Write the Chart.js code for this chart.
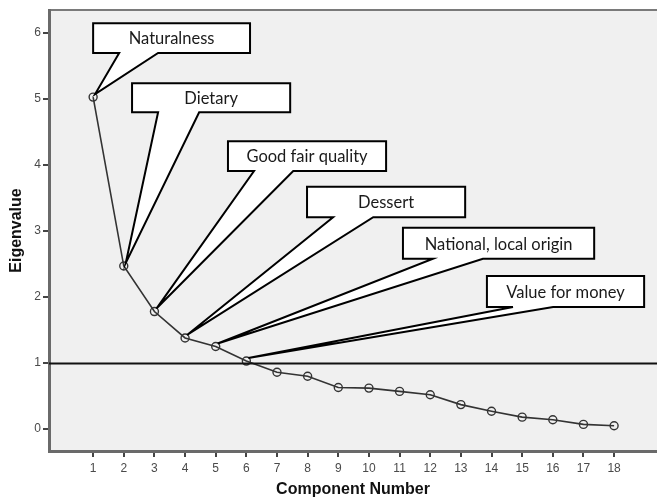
<!DOCTYPE html>
<html>
<head>
<meta charset="utf-8">
<script src="https://cdn.jsdelivr.net/npm/chart.js@4.4.1/dist/chart.umd.min.js"></script>
<style>
html, body { margin: 0; padding: 0; background: #fff; overflow: hidden; }
canvas { display: block; }
</style>
</head>
<body>
<canvas id="scree-canvas" width="657" height="503"></canvas>
<script>
const components = [1,2,3,4,5,6,7,8,9,10,11,12,13,14,15,16,17,18]
const eigenvalues = [5.03,2.47,1.78,1.38,1.25,1.03,0.86,0.80,0.63,0.62,0.57,0.52,0.37,0.27,0.18,0.14,0.07,0.05]
const yTicks = [0,1,2,3,4,5,6]
const cutoff = 1
const calloutLabels = ['Naturalness','Dietary','Good fair quality','Dessert','National, local origin','Value for money']
const calloutComponent = [1,2,3,4,5,6]

// box layout in axis units: [left, right, top, bottom, baseLeft, baseRight]
const calloutBoxes = [
	[1.0, 6.12, 6.15, 5.70, 1.85, 3.12],
	[2.27, 7.43, 5.24, 4.80, 3.12, 4.46],
	[5.40, 10.56, 4.36, 3.91, 6.25, 7.53],
	[7.98, 13.14, 3.67, 3.21, 8.83, 10.14],
	[11.11, 17.35, 3.05, 2.58, 12.09, 13.72],
	[13.85, 18.98, 2.32, 1.85, 14.70, 16.01]
]

const plotDecor = {
	id: 'plotDecor',
	beforeDraw(chart) {
		const { ctx, chartArea: a } = chart
		ctx.save()
		ctx.fillStyle = '#f0f0f0'
		ctx.fillRect(a.left, a.top, a.right - a.left, a.bottom - a.top)
		ctx.strokeStyle = '#7a7a7a'
		ctx.lineWidth = 2
		ctx.beginPath()
		ctx.moveTo(a.left, a.top)
		ctx.lineTo(a.right, a.top)
		ctx.stroke()
		ctx.restore()
	},
	afterDatasetsDraw(chart) {
		const { ctx, chartArea: a, scales } = chart
		const x = scales.x, y = scales.y
		ctx.save()
		// cutoff line
		const yc = Math.round(y.getPixelForValue(cutoff)) + 0.5
		ctx.strokeStyle = '#111'
		ctx.lineWidth = 2
		ctx.beginPath()
		ctx.moveTo(a.left, yc)
		ctx.lineTo(a.right, yc)
		ctx.stroke()
		// callouts
		calloutLabels.forEach((label, i) => {
			const [l, r, t, b, bl, br] = calloutBoxes[i]
			const c = calloutComponent[i]
			const L = x.getPixelForValue(l), R = x.getPixelForValue(r)
			const T = y.getPixelForValue(t), B = y.getPixelForValue(b)
			const BL = x.getPixelForValue(bl), BR = x.getPixelForValue(br)
			const tx = x.getPixelForValue(c) + 2, ty = y.getPixelForValue(eigenvalues[c - 1]) - 3
			ctx.beginPath()
			ctx.moveTo(L, T)
			ctx.lineTo(R, T)
			ctx.lineTo(R, B)
			ctx.lineTo(BR, B)
			ctx.lineTo(tx, ty)
			ctx.lineTo(BL, B)
			ctx.lineTo(L, B)
			ctx.closePath()
			ctx.fillStyle = '#fff'
			ctx.fill()
			ctx.strokeStyle = '#000'
			ctx.lineWidth = 2
			ctx.lineJoin = 'miter'
			ctx.stroke()
			ctx.fillStyle = '#1a1a1a'
			ctx.font = '16.5px Lato, "Open Sans", sans-serif'
			ctx.textAlign = 'center'
			ctx.textBaseline = 'middle'
			ctx.fillText(label, (L + R) / 2, (T + B) / 2 + 1)
		})
		ctx.restore()
	}
}

const context = document.getElementById('scree-canvas').getContext('2d')

const screeChart = new Chart(context, {
	type: 'line',
	data: {
		datasets: [{
			label: 'Eigenvalue',
			data: components.map((c, i) => ({ x: c, y: eigenvalues[i] })),
			borderColor: '#333',
			borderWidth: 1.6,
			pointRadius: 4,
			pointBorderWidth: 1.4,
			pointBorderColor: '#333',
			pointBackgroundColor: 'rgba(0,0,0,0)',
			fill: false,
			tension: 0
		}]
	},
	options: {
		responsive: false,
		animation: false,
		devicePixelRatio: 1,
		layout: { autoPadding: false, padding: { top: 10, right: 0, left: 0, bottom: 0 } },
		plugins: {
			legend: { display: false },
			tooltip: { enabled: false }
		},
		scales: {
			x: {
				type: 'linear',
				position: 'bottom',
				min: -0.44,
				max: 19.4,
				afterBuildTicks: s => { s.ticks = components.map(v => ({ value: v })) },
				afterFit: s => { s.height = 52; s.paddingLeft = 0; s.paddingRight = 0 },
				grid: { drawOnChartArea: false, drawTicks: true, tickLength: 6, color: '#444', lineWidth: 2 },
				border: { color: '#6a6a6a', width: 3 },
				ticks: { color: '#4a4a4a', font: { family: 'Arial', size: 12 }, padding: 4, maxRotation: 0, autoSkip: false },
				title: { display: true, text: 'Component Number', color: '#111', font: { family: 'Arial', size: 16, weight: 'bold' }, padding: { top: 5 } }
			},
			y: {
				type: 'linear',
				position: 'left',
				min: -0.333,
				max: 6.35,
				afterBuildTicks: s => { s.ticks = yTicks.map(v => ({ value: v })) },
				afterFit: s => { s.width = 49; s.paddingTop = 0; s.paddingBottom = 0 },
				grid: { drawOnChartArea: false, drawTicks: true, tickLength: 6, color: '#444', lineWidth: 2 },
				border: { color: '#6a6a6a', width: 3 },
				ticks: { color: '#4a4a4a', font: { family: 'Arial', size: 12 }, padding: 2 },
				title: { display: true, text: 'Eigenvalue', color: '#111', font: { family: 'Arial', size: 16, weight: 'bold' }, padding: { top: 7, bottom: 4 } }
			}
		}
	},
	plugins: [plotDecor]
})
</script>
</body>
</html>
